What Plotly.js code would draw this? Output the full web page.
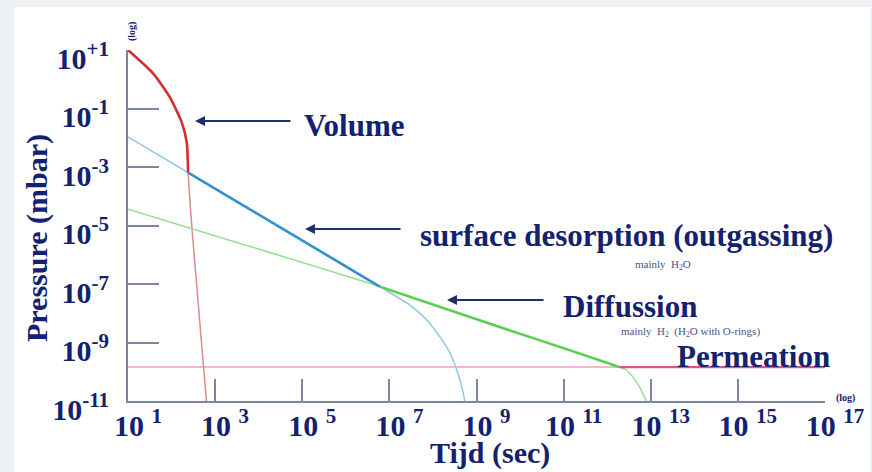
<!DOCTYPE html>
<html>
<head>
<meta charset="utf-8">
<script src="https://cdn.plot.ly/plotly-3.0.1.min.js"></script>
<style>
  html, body { margin: 0; padding: 0; background: #eef1f4; width: 872px; height: 472px; overflow: hidden; }
  #chart { position: absolute; left: 14px; top: 7px; width: 856px; height: 465px; background: #ffffff; }
</style>
</head>
<body>
<div id="chart"></div>
<script>
// ---- data (log10 exponents) ----
const volumeLogT = [1, 1.57, 1.96, 2.24, 2.35, 2.38, 2.42, 2.49, 2.80];
const volumeLogP = [1, 0.21, -0.61, -1.50, -2.18, -3.19, -4.13, -5.50, -11.0];

const desorptionLogT = [1, 2.38, 6.78, 7.47, 7.86, 8.16, 8.39, 8.57, 8.68, 8.73];
const desorptionLogP = [-1.97, -3.19, -7.09, -7.72, -8.23, -8.81, -9.36, -10.04, -10.62, -11.0];

const diffusionLogT = [1, 6.78, 9.53, 10.91, 12.28, 12.44, 12.60, 12.74, 12.90];
const diffusionLogP = [-4.44, -7.09, -8.47, -9.15, -9.84, -9.94, -10.20, -10.52, -11.0];

const permeationLogT = [1, 12.28, 17];
const permeationLogP = [-9.84, -9.84, -9.84];

// index ranges of each curve that form the dominant (thick) envelope
const volumeEnvelope = [0, 5];
const desorptionEnvelope = [1, 2];
const diffusionEnvelope = [1, 4];
const permeationEnvelope = [1, 2];

const xTickExp = [1, 3, 5, 7, 9, 11, 13, 15, 17];
const xTickText = ['10 <sup>1</sup>', '10 <sup>3</sup>', '10 <sup>5</sup>', '10 <sup>7</sup>', '10 <sup>9</sup>',
                   '10 <sup>11</sup>', '10 <sup>13</sup>', '10 <sup>15</sup>', '10 <sup>17</sup>'];
const yTickExp = [-11, -9, -7, -5, -3, -1, 1];
const yTickText = ['10<sup>-11</sup>', '10<sup>-9</sup>', '10<sup>-7</sup>', '10<sup>-5</sup>',
                   '10<sup>-3</sup>', '10<sup>-1</sup>', '10<sup>+1</sup>'];

// ---- build ----
const pw = v => Math.pow(10, v);
const NAVY = '#13216e';
const AXIS = '#7b86a2';
const SERIF = 'Liberation Serif, Times New Roman, serif';

function curve(lt, lp, color, width, shape) {
  return { x: lt.map(pw), y: lp.map(pw), mode: 'lines', type: 'scatter',
           line: { color: color, width: width, shape: shape || 'spline', smoothing: 0.6 },
           hoverinfo: 'skip', showlegend: false };
}
function seg(lt, lp, r) { return [lt.slice(r[0], r[1] + 1), lp.slice(r[0], r[1] + 1)]; }

const traces = [
  curve(permeationLogT, permeationLogP, '#f39bbd', 1.5, 'linear'),
  curve(volumeLogT, volumeLogP, '#dc8a8a', 1.5),
  curve(desorptionLogT, desorptionLogP, '#92c6e2', 1.5),
  curve(diffusionLogT, diffusionLogP, '#95e08f', 1.5),
  curve(...seg(permeationLogT, permeationLogP, permeationEnvelope), '#e2508c', 2.2, 'linear'),
  curve(...seg(diffusionLogT, diffusionLogP, diffusionEnvelope), '#55d04c', 2.6),
  curve(...seg(desorptionLogT, desorptionLogP, desorptionEnvelope), '#3390d0', 2.6, 'linear'),
  curve(...seg(volumeLogT, volumeLogP, volumeEnvelope), '#d43030', 2.6),
];

// pixel (page) -> paper coords helper for annotations
const PX0 = 128, PX1 = 825, PY0 = 401, PY1 = 50;
const px = p => (p - PX0) / (PX1 - PX0);
const py = p => (PY0 - p) / (PY0 - PY1);

function label(text, cx, cy, size, opts) {
  return Object.assign({ xref: 'paper', yref: 'paper', x: px(cx), y: py(cy), xanchor: 'center', yanchor: 'middle',
    text: text, showarrow: false, font: { family: SERIF, size: size, color: NAVY, weight: 'bold' } }, opts || {});
}
function arrow(headX, headY, tailX) {
  return { xref: 'paper', yref: 'paper', x: px(headX), y: py(headY), ax: tailX - headX, ay: 0,
    axref: 'pixel', ayref: 'pixel', text: '', showarrow: true, arrowhead: 2, arrowsize: 1,
    arrowwidth: 2, arrowcolor: '#1c2f6e', standoff: 0, startstandoff: 0 };
}

const small = { family: SERIF, size: 11, color: '#4a5482', weight: 'normal' };

const annotations = [
  label('Volume', 354, 125, 31),
  arrow(195, 121, 292),
  label('surface desorption (outgassing)', 626, 235, 31),
  arrow(305, 229, 402),
  label('mainly  H<sub>2</sub>O', 663, 265, 11, { font: small }),
  label('Diffussion', 630, 306, 31),
  arrow(447, 300, 545),
  label('mainly  H<sub>2</sub>  (H<sub>2</sub>O with O-rings)', 690, 332, 11, { font: small }),
  label('Permeation', 753, 356, 31),
  label('(log)', 132, 32, 10, { textangle: -90, font: { family: SERIF, size: 10, color: NAVY, weight: 'bold' } }),
  label('(log)', 845, 398, 10, { font: { family: SERIF, size: 10, color: NAVY, weight: 'bold' } }),
  label('Pressure (mbar)', 37, 238, 30, { textangle: -90 }),
  label('Tijd (sec)', 490, 453, 30),
];

const tickFont = { family: SERIF, size: 30, color: NAVY, weight: 'bold' };

const layout = {
  width: 856, height: 465,
  margin: { l: 114, r: 45, t: 43, b: 71, pad: 0 },
  paper_bgcolor: '#ffffff', plot_bgcolor: '#ffffff',
  showlegend: false,
  xaxis: {
    type: 'log', range: [1, 17], showgrid: false, zeroline: false,
    showline: true, linecolor: AXIS, linewidth: 2,
    ticks: 'inside', ticklen: 22, tickwidth: 2, tickcolor: AXIS,
    tickmode: 'array', tickvals: xTickExp.map(pw), ticktext: xTickText,
    tickfont: tickFont, ticklabelshift: 10, ticklabelstandoff: -3
  },
  yaxis: {
    type: 'log', range: [-11, 1], showgrid: false, zeroline: false,
    showline: true, linecolor: AXIS, linewidth: 2,
    ticks: 'inside', ticklen: 31, tickwidth: 2, tickcolor: AXIS,
    tickmode: 'array', tickvals: yTickExp.map(pw), ticktext: yTickText,
    tickfont: tickFont, ticklabelshift: 8, ticklabelstandoff: 11
  },
  annotations: annotations
};

Plotly.newPlot('chart', traces, layout, { displayModeBar: false, staticPlot: true });
</script>
</body>
</html>
